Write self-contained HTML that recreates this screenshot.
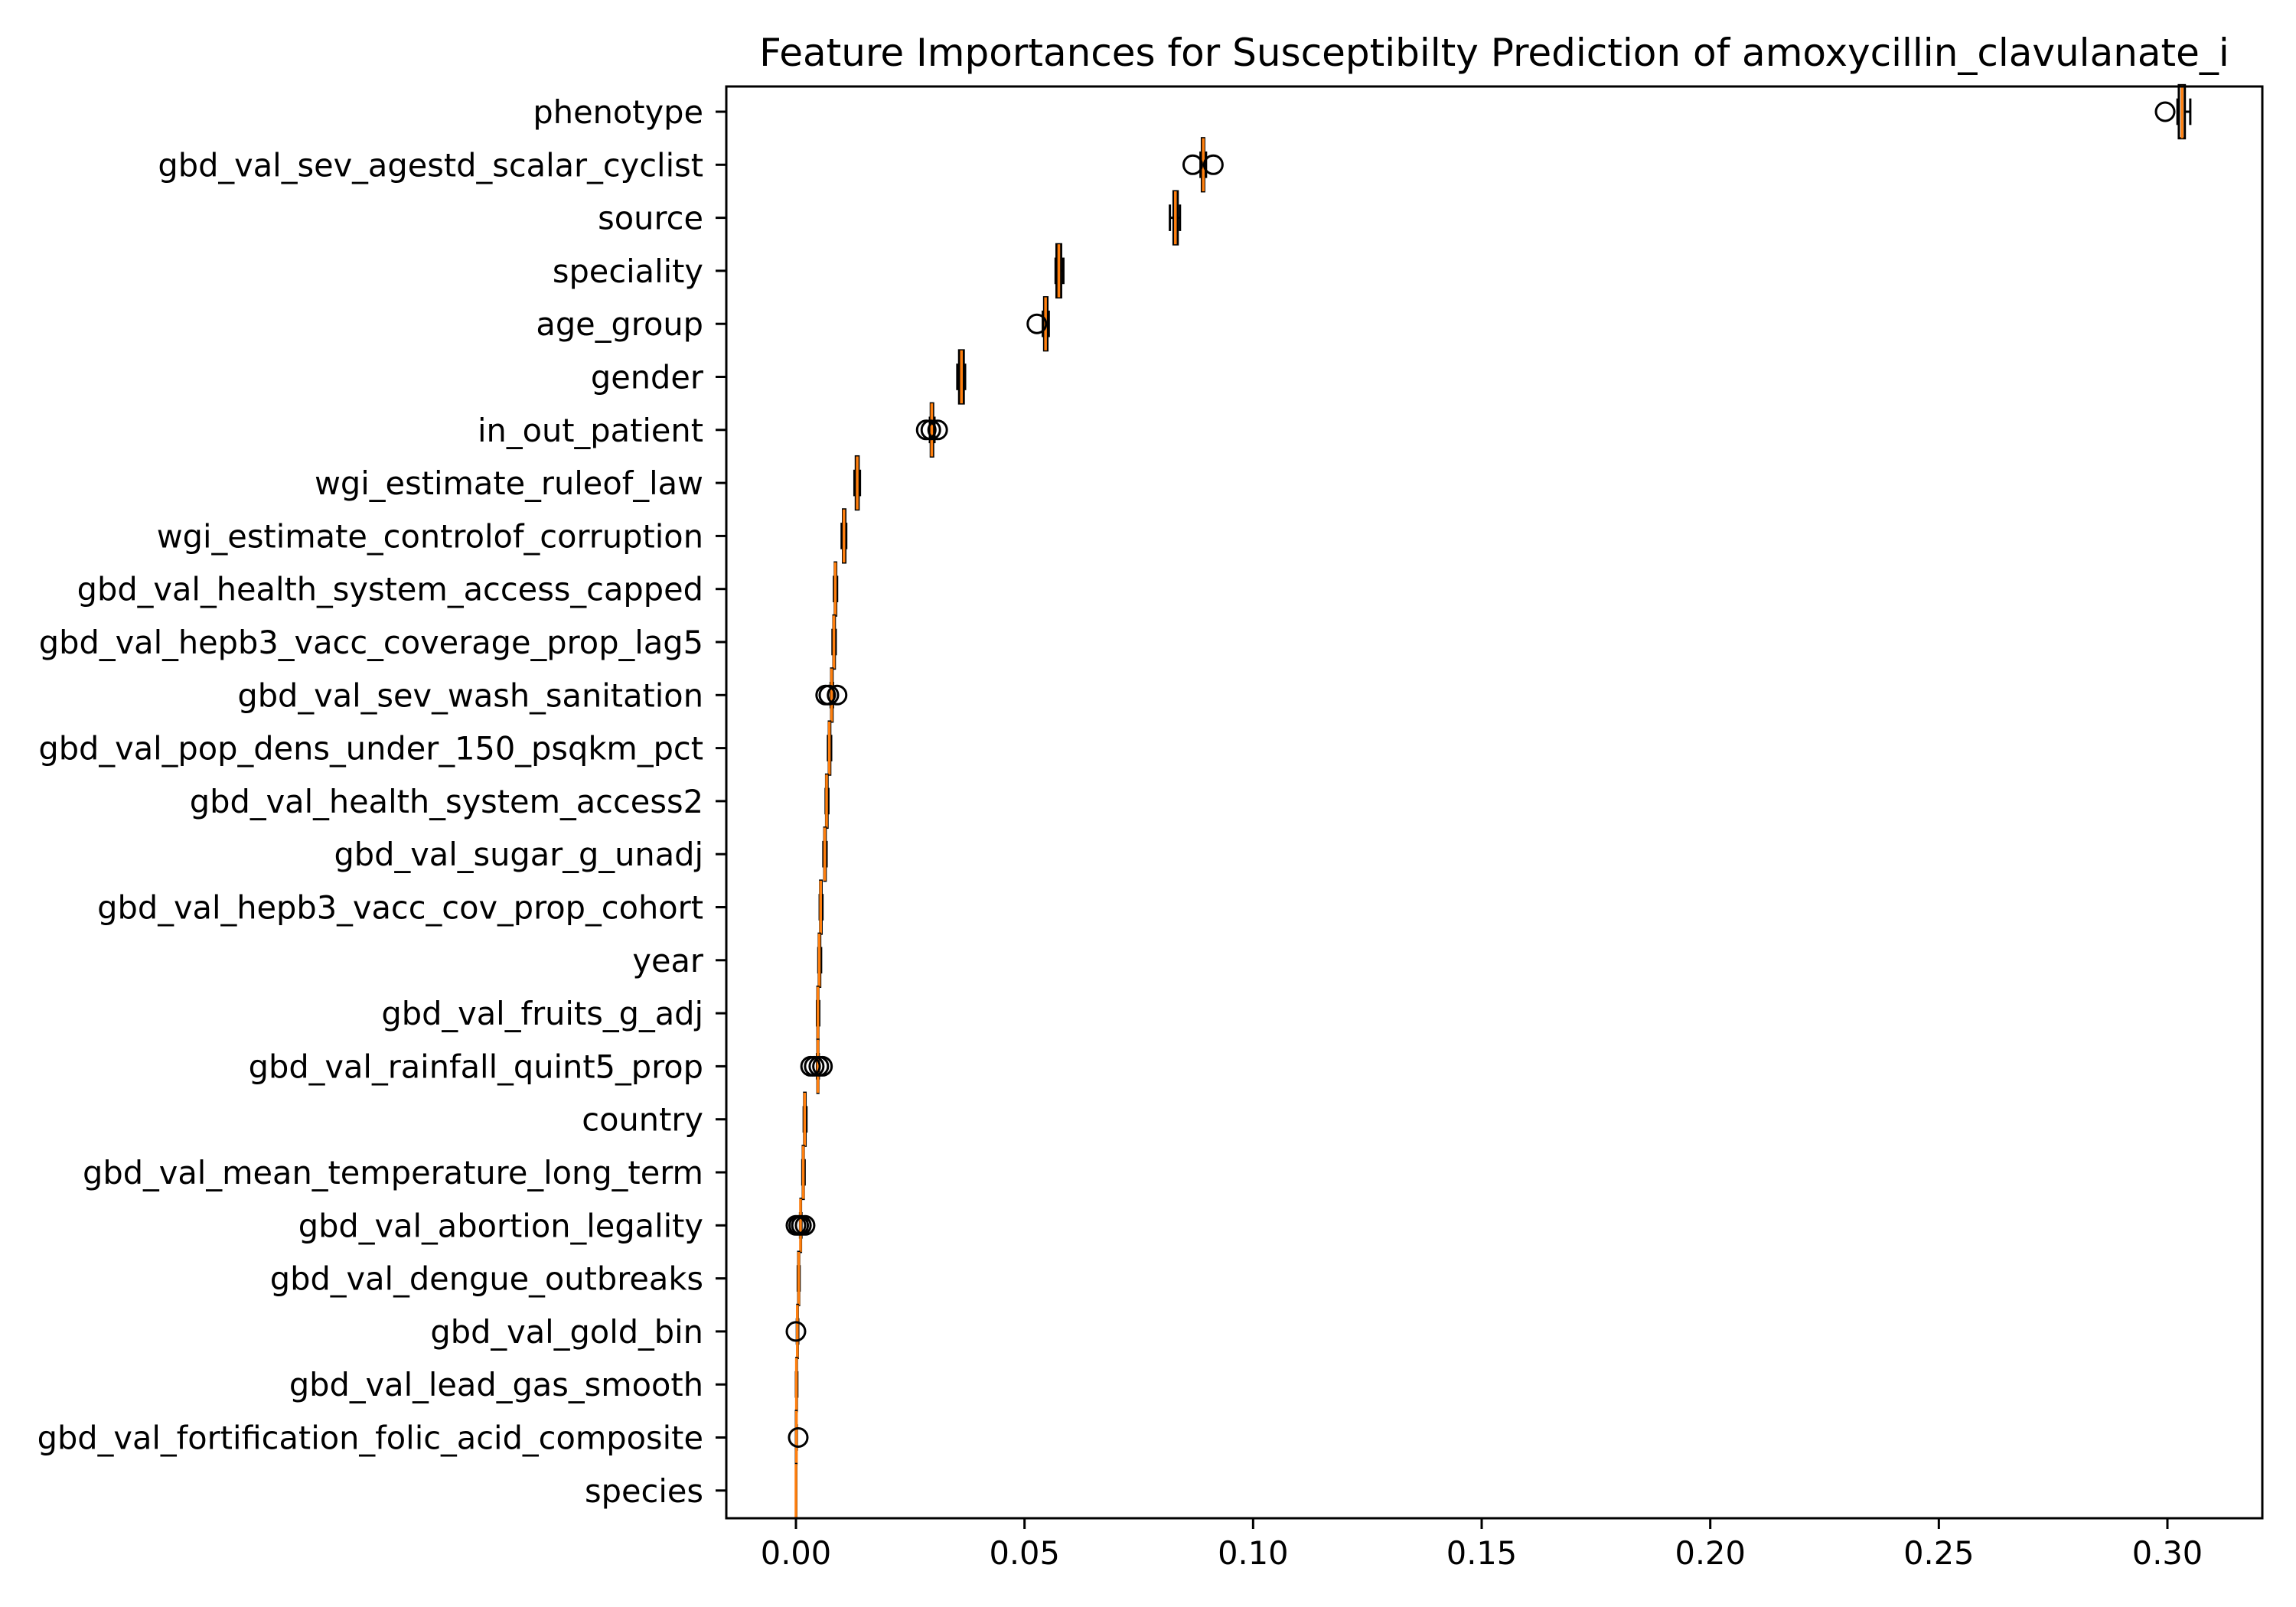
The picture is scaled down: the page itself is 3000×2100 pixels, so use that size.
<!DOCTYPE html>
<html><head><meta charset="utf-8"><style>body{margin:0;background:#fff}svg{display:block}</style></head>
<body>
<svg id="chart" width="3000" height="2100" xmlns="http://www.w3.org/2000/svg" font-family="'DejaVu Sans','Liberation Sans',sans-serif"></svg>
<script>
const categories=["phenotype","gbd_val_sev_agestd_scalar_cyclist","source","speciality","age_group","gender","in_out_patient","wgi_estimate_ruleof_law","wgi_estimate_controlof_corruption","gbd_val_health_system_access_capped","gbd_val_hepb3_vacc_coverage_prop_lag5","gbd_val_sev_wash_sanitation","gbd_val_pop_dens_under_150_psqkm_pct","gbd_val_health_system_access2","gbd_val_sugar_g_unadj","gbd_val_hepb3_vacc_cov_prop_cohort","year","gbd_val_fruits_g_adj","gbd_val_rainfall_quint5_prop","country","gbd_val_mean_temperature_long_term","gbd_val_abortion_legality","gbd_val_dengue_outbreaks","gbd_val_gold_bin","gbd_val_lead_gas_smooth","gbd_val_fortification_folic_acid_composite","species"];
const medians=[0.3032,0.0891,0.0830,0.0575,0.0546,0.0362,0.0297,0.0134,0.0105,0.0086,0.0083,0.0078,0.0073,0.0067,0.0063,0.0054,0.0051,0.0048,0.0048,0.0019,0.0016,0.0010,0.0006,0.0003,0.0001,0.0001,0.0];
const q1s=[0.3025,0.0888,0.0826,0.0570,0.0543,0.0357,0.0295,0.0131,0.0103,0.0085,0.0082,0.0077,0.0072,0.0066,0.0062,0.0053,0.0050,0.0047,0.0047,0.0018,0.0015,0.0010,0.0005,0.0003,0.0001,0.0,0.0];
const q3s=[0.3038,0.0893,0.0835,0.0580,0.0550,0.0367,0.0300,0.0137,0.0108,0.0088,0.0085,0.0080,0.0075,0.0069,0.0065,0.0056,0.0053,0.0049,0.0049,0.0021,0.0017,0.0011,0.0007,0.0004,0.0002,0.0001,0.0];
const whLow=[0.3022,0.0885,0.0818,0.0568,0.0540,0.0353,0.0293,0.0128,0.0100,0.0083,0.0080,0.0076,0.0070,0.0065,0.0060,0.0052,0.0049,0.0046,0.0046,0.0017,0.0014,0.0009,0.0004,0.0002,0.0,0.0,0.0];
const whHigh=[0.3050,0.0897,0.0840,0.0585,0.0553,0.0370,0.0303,0.0140,0.0110,0.0090,0.0087,0.0081,0.0077,0.0071,0.0067,0.0058,0.0055,0.0051,0.0050,0.0023,0.0019,0.0012,0.0008,0.0005,0.0003,0.0002,0.0];
const fliers=[[0.2995],[0.0868,0.0913],[],[],[0.0527],[],[0.0285,0.0295,0.0310],[],[],[],[],[0.0065,0.0072,0.0090],[],[],[],[],[],[],[0.0032,0.0040,0.0050,0.0058],[],[],[0.0000,0.0006,0.0012,0.0020],[],[0.0],[],[0.0005],[]];
const xTicks=[0,0.05,0.10,0.15,0.20,0.25,0.30];
const xTickLabels=["0.00","0.05","0.10","0.15","0.20","0.25","0.30"];

const L=949,R=2956,T=113,B=1984;
const x=v=>1040+(v/0.30)*(2832-1040);
const rowStep=69.3;
const y=i=>146+i*rowStep;
const svg=document.getElementById('chart');
const NS='http://www.w3.org/2000/svg';
function mk(tag,attrs,parent){const e=document.createElementNS(NS,tag);for(const k in attrs)e.setAttribute(k,attrs[k]);(parent||svg).appendChild(e);return e;}
const half=rowStep*0.5;

const title=mk('text',{x:(L+R)/2,y:86,'font-size':50,'text-anchor':'middle',fill:'#000'});
title.textContent='Feature Importances for Susceptibilty Prediction of amoxycillin_clavulanate_i';



categories.forEach((c,i)=>{
  const g=mk('g',{});
  
  
  const yc=y(i);
  mk('line',{x1:935,x2:L,y1:yc,y2:yc,stroke:'#000','stroke-width':3},g);
  const t=mk('text',{x:919,y:yc+15,'font-size':41.5,'text-anchor':'end',fill:'#000'},g);
  t.textContent=c;
  mk('line',{x1:x(whLow[i]),x2:x(q1s[i]),y1:yc,y2:yc,stroke:'#000','stroke-width':3},g);
  mk('line',{x1:x(q3s[i]),x2:x(whHigh[i]),y1:yc,y2:yc,stroke:'#000','stroke-width':3},g);
  mk('line',{x1:x(whLow[i]),x2:x(whLow[i]),y1:yc-half/2,y2:yc+half/2,stroke:'#000','stroke-width':3},g);
  mk('line',{x1:x(whHigh[i]),x2:x(whHigh[i]),y1:yc-half/2,y2:yc+half/2,stroke:'#000','stroke-width':3},g);
  mk('rect',{x:x(q1s[i]),y:yc-half,width:Math.max(x(q3s[i])-x(q1s[i]),0.5),height:2*half,fill:'none',stroke:'#000','stroke-width':3},g);
  mk('line',{x1:x(medians[i]),x2:x(medians[i]),y1:yc-half,y2:yc+half,stroke:'#ff7f0e','stroke-width':3.5},g);
  fliers[i].forEach(f=>mk('circle',{cx:x(f),cy:yc,r:12,fill:'none',stroke:'#000','stroke-width':3},g));
});

xTicks.forEach((v,k)=>{
  mk('line',{x1:x(v),x2:x(v),y1:B,y2:B+14,stroke:'#000','stroke-width':3});
  const t=mk('text',{x:x(v),y:B+60,'font-size':41.5,'text-anchor':'middle',fill:'#000'});
  t.textContent=xTickLabels[k];
  
  
});
const frame=mk('rect',{x:L,y:T,width:R-L,height:B-T,fill:'none',stroke:'#000','stroke-width':3});


</script>
</body></html>
